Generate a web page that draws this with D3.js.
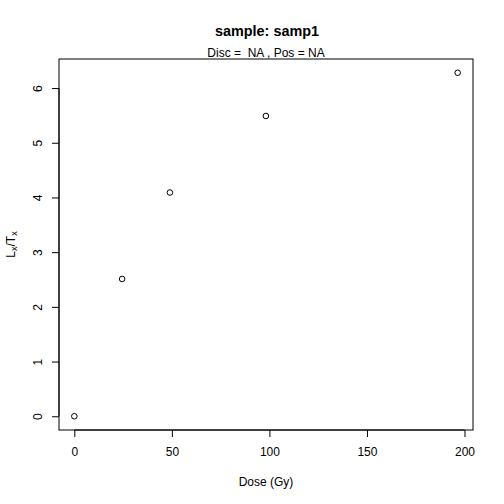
<!DOCTYPE html>
<html>
<head>
<meta charset="utf-8">
<script src="https://cdn.jsdelivr.net/npm/d3@7"></script>
<style>
  html, body { margin: 0; padding: 0; background: #fff; }
  svg { display: block; }
  text { font-family: "Liberation Sans", Arial, Helvetica, sans-serif; fill: #000; }
</style>
</head>
<body>
<script>
// ---- data ----
const doses = [0, 24.5, 49, 98.2, 196.5];
const lxtx = [0.0, 2.51, 4.09, 5.49, 6.28];
const xTicks = [0, 50, 100, 150, 200];
const yTicks = [0, 1, 2, 3, 4, 5, 6];
const titleText = "sample: samp1";
const subtitleText = "Disc =  NA , Pos = NA";
const xLabel = "Dose (Gy)";

// ---- layout ----
const W = 504, H = 504;
const plot = { left: 59, right: 473, top: 59, bottom: 430 };

const svg = d3.select("body").append("svg")
  .attr("width", W).attr("height", H);

function ext(min, max) {
  const d = (max - min) * 0.04;
  return [min - d, max + d];
}

const x = d3.scaleLinear()
  .domain(ext(d3.min(doses), d3.max(doses)))
  .range([plot.left, plot.right]);
const y = d3.scaleLinear()
  .domain(ext(d3.min(lxtx), d3.max(lxtx)))
  .range([plot.bottom, plot.top]);

// box
svg.append("rect")
  .attr("x", plot.left).attr("y", plot.top)
  .attr("width", plot.right - plot.left)
  .attr("height", plot.bottom - plot.top)
  .attr("fill", "none").attr("stroke", "#000").attr("stroke-width", 1);

// x axis
const xAxis = d3.axisBottom(x).tickValues(xTicks).tickSize(7).tickPadding(10)
  .tickFormat(d3.format("d"));
const gx = svg.append("g").attr("transform", `translate(0,${plot.bottom})`).call(xAxis);
gx.select(".domain").attr("d", `M${x(xTicks[0])},0H${x(xTicks[xTicks.length-1])}`).attr("stroke", "#000");
gx.selectAll(".tick line").attr("stroke", "#000");
gx.selectAll(".tick text").attr("font-size", 12).attr("font-family", "Liberation Sans, Arial, sans-serif").attr("fill", "#000");

// y axis
const yAxis = d3.axisLeft(y).tickValues(yTicks).tickSize(7).tickFormat(d3.format("d"));
const gy = svg.append("g").attr("transform", `translate(${plot.left},0)`).call(yAxis);
gy.select(".domain").attr("d", `M0,${y(yTicks[0])}V${y(yTicks[yTicks.length-1])}`).attr("stroke", "#000");
gy.selectAll(".tick line").attr("stroke", "#000");
gy.selectAll(".tick text")
  .attr("font-size", 12).attr("font-family", "Liberation Sans, Arial, sans-serif").attr("fill", "#000")
  .attr("x", null).attr("dy", null)
  .attr("text-anchor", "middle")
  .attr("transform", "translate(-17,0) rotate(-90)");

// points
svg.append("g").selectAll("circle")
  .data(doses.map((d, i) => [d, lxtx[i]]))
  .join("circle")
  .attr("cx", d => x(d[0])).attr("cy", d => y(d[1]))
  .attr("r", 2.8)
  .attr("fill", "none").attr("stroke", "#000").attr("stroke-width", 1);

const cx = (plot.left + plot.right) / 2;
const cy = (plot.top + plot.bottom) / 2;

// title
svg.append("text").attr("x", cx + 1).attr("y", 36)
  .attr("text-anchor", "middle").attr("font-size", 14.4).attr("font-weight", "bold")
  .text(titleText);
svg.append("text").attr("x", cx).attr("y", 56.5)
  .attr("text-anchor", "middle").attr("font-size", 12)
  .style("white-space", "pre")
  .text(subtitleText);

// x label
svg.append("text").attr("x", cx).attr("y", 486)
  .attr("text-anchor", "middle").attr("font-size", 12)
  .text(xLabel);

// y label with subscripts
const yl = svg.append("text")
  .attr("transform", `translate(14.5,${cy}) rotate(-90)`)
  .attr("text-anchor", "middle").attr("font-size", 12);
yl.append("tspan").text("L");
yl.append("tspan").attr("font-size", 9).attr("dy", 2.5).text("x");
yl.append("tspan").attr("dy", -2.5).text("/T");
yl.append("tspan").attr("font-size", 9).attr("dy", 2.5).text("x");
</script>
</body>
</html>
